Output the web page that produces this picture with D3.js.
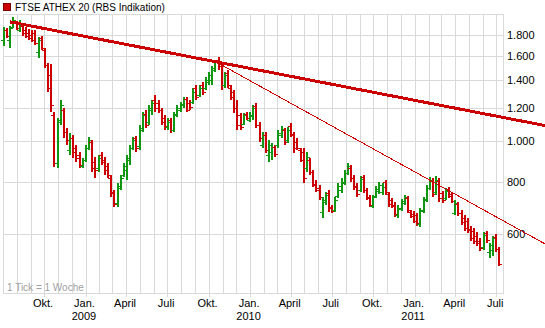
<!DOCTYPE html>
<html>
<head>
<meta charset="utf-8">
<script src="https://cdn.jsdelivr.net/npm/d3@7"></script>
<style>
  body { margin: 0; background: #fff; }
  svg text { font-family: "Liberation Sans", Arial, sans-serif; font-size: 11px; }
</style>
</head>
<body>
<svg id="chart" width="545" height="328"></svg>
<script>
// ---- data -------------------------------------------------------------
const seriesName = "FTSE ATHEX 20 (RBS Indikation)";
const intervalNote = "1 Tick = 1 Woche";
const firstWeek = "2008-07-04";   // one OHLC bar per week from here on

const open = [1749,1848,1749,1879,1932,1848,1890,1848,1818,1798,1818,1637,1769,1655,1524,1443,1157,888,1126,1190,
  1054,954,1019,965,928,874,903,965,997,893,864,928,903,874,818,753,713,774,831,855,
  903,965,1019,976,1077,1164,1113,1190,1257,1236,1190,1138,1083,1126,1065,1164,1190,1223,1264,1236,
  1243,1343,1292,1365,1343,1388,1403,1483,1567,1516,1365,1459,1343,1314,1203,1157,1101,1164,1126,1151,
  1216,1095,981,1036,928,944,970,981,1036,1065,1008,1089,1036,997,954,944,864,903,846,791,
  774,678,717,753,697,686,741,766,796,841,864,818,783,766,822,766,737,701,741,762,
  757,800,749,724,705,667,690,713,733,678,671,667,635,686,729,774,804,757,804,753,
  733,770,749,675,709,675,656,646,618,611,594,578,559,604,544,550,591,553];
const high = [1879,1869,1890,1986,1942,1953,1911,1879,1859,1848,1848,1778,1788,1674,1541,1533,1177,1138,1257,1203,
  1077,1048,1036,981,944,913,981,1025,1008,918,928,944,918,888,831,766,796,831,888,928,
  981,1025,1031,1095,1177,1190,1223,1257,1292,1257,1203,1157,1138,1138,1177,1223,1243,1278,1278,1257,
  1343,1365,1365,1388,1427,1467,1516,1567,1593,1541,1467,1483,1365,1328,1257,1170,1170,1177,1177,1223,
  1236,1113,1054,1054,1008,992,981,1065,1089,1077,1083,1107,1054,1019,965,965,944,913,855,809,
  787,737,757,766,705,737,796,818,855,888,879,831,796,827,831,774,745,745,783,800,
  796,809,757,733,717,705,729,745,741,686,682,675,693,737,787,822,818,827,818,762,
  774,778,757,724,717,686,667,656,628,621,607,588,607,611,572,594,601,559];
const low = [1693,1769,1674,1869,1848,1828,1788,1769,1749,1730,1702,1584,1655,1499,1314,1177,869,864,1095,1019,
  981,928,913,893,864,864,893,954,846,818,846,879,831,818,737,697,697,766,822,809,
  879,954,944,954,1054,1077,1095,1157,1177,1170,1095,1065,1065,1048,1054,1145,1177,1203,1177,1190,
  1229,1257,1278,1292,1328,1365,1365,1467,1483,1328,1343,1343,1257,1170,1065,1065,1095,1126,1113,1126,
  1077,997,965,939,893,903,918,965,1019,981,992,1025,939,954,893,796,846,831,778,757,
  724,656,705,678,675,678,733,753,787,831,800,766,737,757,753,724,697,693,733,749,
  745,745,697,693,660,656,682,705,675,656,638,628,624,675,717,766,737,745,717,713,
  724,733,713,667,664,631,611,604,578,568,562,547,550,572,526,532,544,503];
const close = [1848,1788,1869,1953,1869,1921,1818,1788,1769,1749,1721,1749,1674,1524,1343,1223,888,1113,1223,1054,
  1008,1019,944,913,879,903,965,1008,864,855,913,893,855,831,757,709,783,818,874,913,
  965,1008,965,1065,1157,1095,1203,1236,1203,1190,1113,1089,1113,1065,1157,1203,1229,1264,1190,1209,
  1314,1278,1343,1314,1403,1443,1499,1550,1516,1365,1443,1365,1278,1203,1095,1083,1157,1138,1157,1203,
  1095,1019,1036,954,981,970,934,1048,1071,997,1065,1042,965,965,903,818,918,846,787,766,
  737,724,745,693,682,724,783,800,841,874,818,778,749,813,766,733,705,737,770,787,
  778,757,709,701,671,693,721,737,686,664,646,638,682,724,774,809,749,809,733,724,
  762,741,721,713,675,642,621,614,588,578,572,556,597,581,565,588,553,509];

// right-hand price axis and quarterly date axis
const priceTicks = [600, 800, 1000, 1200, 1400, 1600, 1800];
const monthLabels = ["Jan.", "", "", "April", "", "", "Juli", "", "", "Okt.", "", ""];

// resistance lines, each through two (date, price) anchors and extended to the right
const trendMajor = [["2008-07-17", 1932], ["2011-05-03", 1183]];
const trendMinor = [["2009-10-15", 1555], ["2011-05-03", 716]];

// ---- layout -----------------------------------------------------------
const W = 545, H = 328;
const plot = { left: 3, right: 503, top: 14, bottom: 293 };
const GREEN = "#119611", RED = "#cc0000", GRID = "#d9d9d9";

const parse = d3.utcParse("%Y-%m-%d");
const start = parse(firstWeek);
const bars = open.map((o, i) => ({
  date: d3.utcDay.offset(start, 7 * i),
  o, h: high[i], l: low[i], c: close[i]
}));

const x = d3.scaleUtc()
  .domain([parse("2008-07-02"), parse("2011-07-16")])
  .range([plot.left, plot.right]);

const y = d3.scaleLog()
  .domain([600, 1800])
  .range([234.3, 34.7]);

const svg = d3.select("#chart");

// frame and grid
const grid = svg.append("g").attr("shape-rendering", "crispEdges").attr("stroke", GRID).attr("fill", "none");
const months = d3.utcMonth.range(parse("2008-07-01"), parse("2011-07-16"));
grid.selectAll("line.v").data(months).join("line")
  .attr("x1", d => Math.round(x(d)) + 0.5).attr("x2", d => Math.round(x(d)) + 0.5)
  .attr("y1", plot.top).attr("y2", plot.bottom);
grid.selectAll("line.h").data(priceTicks).join("line")
  .attr("x1", plot.left).attr("x2", plot.right)
  .attr("y1", d => Math.round(y(d)) + 0.5).attr("y2", d => Math.round(y(d)) + 0.5);
grid.append("rect")
  .attr("x", plot.left + 0.5).attr("y", plot.top + 0.5)
  .attr("width", plot.right - plot.left).attr("height", plot.bottom - plot.top);

// quarterly ticks and labels
const quarters = d3.utcMonth.every(3).range(parse("2008-10-01"), parse("2011-07-16"));
grid.selectAll("line.t").data(quarters).join("line")
  .attr("x1", d => Math.round(x(d)) + 0.5).attr("x2", d => Math.round(x(d)) + 0.5)
  .attr("y1", plot.bottom).attr("y2", plot.bottom + 4);

const xLab = svg.append("g").attr("fill", "#000").attr("text-anchor", "middle");
xLab.selectAll("text.m").data(quarters).join("text")
  .attr("x", d => x(d) - 1).attr("y", 307)
  .text(d => monthLabels[d.getUTCMonth()]);
xLab.selectAll("text.yr").data(quarters.filter(d => d.getUTCMonth() === 0)).join("text")
  .attr("x", d => x(d) - 1.5).attr("y", 319.5)
  .text(d => d.getUTCFullYear());

// price labels on the right
const fmt = d3.formatLocale({ decimal: ",", thousands: ".", grouping: [3], currency: ["", "€"] }).format(",d");
svg.append("g").selectAll("text").data(priceTicks).join("text")
  .attr("x", 507).attr("y", d => y(d)).attr("dy", "0.36em")
  .attr("fill", "#000").text(d => fmt(d));

svg.append("text").attr("x", 7).attr("y", 290.5).attr("fill", "#a0a0a0")
  .style("font-size", "10px").text(intervalNote);

// OHLC bars
const barG = svg.append("g").attr("shape-rendering", "crispEdges");
const bar = barG.selectAll("g").data(bars).join("g")
  .attr("fill", d => d.c >= d.o ? GREEN : RED);
bar.append("rect")
  .attr("x", d => Math.round(x(d.date)) - 1).attr("width", 2)
  .attr("y", d => Math.round(y(d.h)))
  .attr("height", d => Math.max(1, Math.round(y(d.l)) - Math.round(y(d.h))));
bar.append("rect")
  .attr("x", d => Math.round(x(d.date)) - 3).attr("width", 2)
  .attr("y", d => Math.round(y(d.o))).attr("height", 1);
bar.append("rect")
  .attr("x", d => Math.round(x(d.date)) + 1).attr("width", 2)
  .attr("y", d => Math.round(y(d.c))).attr("height", 1);

// trend lines
function drawTrend(anchors, width) {
  const [a, b] = anchors.map(([d, v]) => [x(parse(d)), y(v)]);
  const slope = (b[1] - a[1]) / (b[0] - a[0]);
  svg.append("line")
    .attr("x1", a[0]).attr("y1", a[1])
    .attr("x2", W).attr("y2", a[1] + slope * (W - a[0]))
    .attr("stroke", RED).attr("stroke-width", width)
    .attr("shape-rendering", "crispEdges");
}
drawTrend(trendMinor, 1);
drawTrend(trendMajor, 3);

// legend
svg.append("rect").attr("x", 3.5).attr("y", 3.5).attr("width", 7).attr("height", 7)
  .attr("fill", RED).attr("stroke", "#7a0000").attr("shape-rendering", "crispEdges");
svg.append("text").attr("x", 15).attr("y", 10.5).attr("fill", "#000")
  .style("font-size", "10px").text(seriesName);
</script>
</body>
</html>
